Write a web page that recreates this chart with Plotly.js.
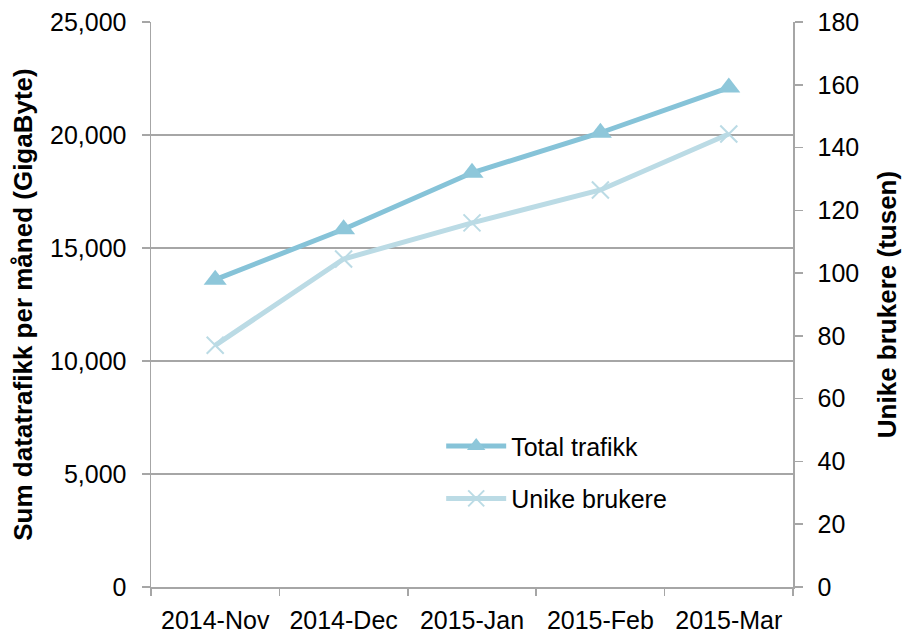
<!DOCTYPE html>
<html>
<head>
<meta charset="utf-8">
<script src="https://cdn.plot.ly/plotly-3.0.1.min.js"></script>
<style>html,body{margin:0;padding:0;background:#fff;}#chart{width:902px;height:632px;}</style>
</head>
<body>
<div id="chart"></div>
<script>
const months = ["2014-Nov", "2014-Dec", "2015-Jan", "2015-Feb", "2015-Mar"];
const totalTraffic = [13600, 15830, 18330, 20100, 22100];
const uniqueUsers = [77, 104.5, 116, 126.5, 144.3];
const seriesNames = ["Total trafikk", "Unike brukere"];
const leftTitle = "Sum datatrafikk per måned (GigaByte)";
const rightTitle = "Unike brukere (tusen)";

const font = "Liberation Sans, Arial, sans-serif";
const gridGray = "#A6A6A6";

const traces = [
  {
    x: months, y: totalTraffic, name: seriesNames[0], type: "scatter", mode: "lines+markers",
    line: {color: "#86C3D8", width: 5},
    marker: {symbol: "triangle-up", size: 20, color: "#8EC7DA", line: {width: 0}},
    legendgroup: "a", yaxis: "y"
  },
  {
    x: months, y: uniqueUsers, name: seriesNames[1], type: "scatter", mode: "lines+markers",
    line: {color: "#BBDBE5", width: 5},
    marker: {symbol: "x-thin-open", size: 17, color: "#BBDBE5", line: {width: 2, color: "#BBDBE5"}},
    legendgroup: "b", yaxis: "y2"
  }
];

const layout = {
  width: 902, height: 632,
  margin: {l: 151, r: 109, t: 22, b: 45, pad: 0},
  paper_bgcolor: "#fff", plot_bgcolor: "#fff",
  font: {family: font, size: 25, color: "#000"},
  showlegend: true,
  legend: {
    x: 0.452, y: 0.29, xanchor: "left", yanchor: "top",
    bgcolor: "rgba(0,0,0,0)", font: {size: 25, family: font},
    traceorder: "grouped", tracegroupgap: 17, itemwidth: 60
  },
  xaxis: {
    type: "category", range: [-0.5, 4.5], showgrid: false, showline: true, linecolor: gridGray, linewidth: 1.5,
    ticks: "outside", ticklen: 7, tickcolor: gridGray, tickwidth: 1.5, tickson: "boundaries",
    tickfont: {size: 25, family: font}, zeroline: false, ticklabelstandoff: 10
  },
  yaxis: {
    range: [0, 25000], dtick: 5000, tickformat: ",d",
    showgrid: true, gridcolor: gridGray, gridwidth: 1.5,
    showline: true, linecolor: gridGray, linewidth: 1.5,
    ticks: "outside", ticklen: 8, tickcolor: gridGray, tickwidth: 1.5,
    zeroline: false, ticklabelstandoff: 10,
    tickfont: {size: 25, family: font},
    title: {text: leftTitle, font: {size: 26, family: font, weight: "bold"}, standoff: 10},
    automargin: false
  },
  yaxis2: {
    range: [0, 180], dtick: 20, overlaying: "y", side: "right",
    showgrid: false, showline: true, linecolor: gridGray, linewidth: 1.5,
    ticks: "outside", ticklen: 8, tickcolor: gridGray, tickwidth: 1.5,
    zeroline: false, ticklabelstandoff: 10,
    tickfont: {size: 25, family: font},
    title: {text: rightTitle, font: {size: 26, family: font, weight: "bold"}, standoff: 20},
    automargin: false
  }
};

Plotly.newPlot("chart", traces, layout, {displayModeBar: false, staticPlot: true});
</script>
</body>
</html>
